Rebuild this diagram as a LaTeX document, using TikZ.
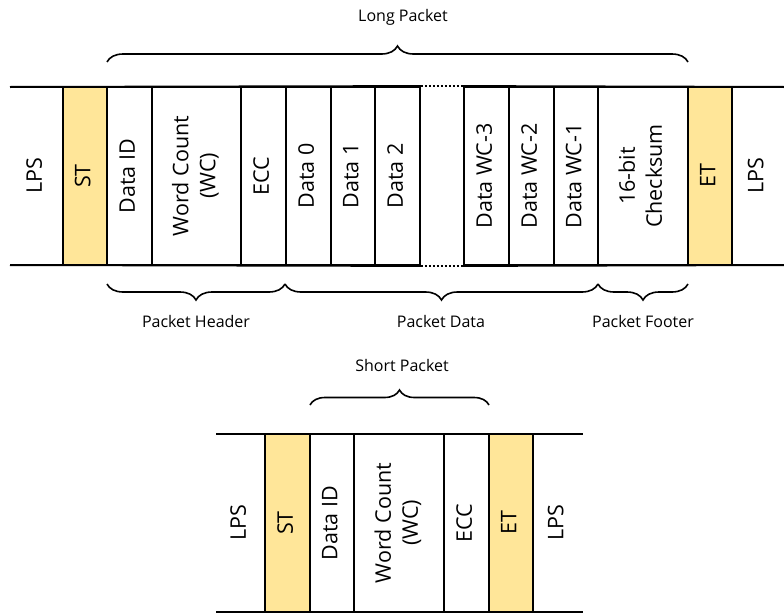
\documentclass[tikz,border=0pt]{standalone}
\usepackage{fontspec}
\setmainfont{Open Sans}
\usetikzlibrary{decorations.pathreplacing}
\definecolor{gold}{HTML}{FFE699}
\tikzset{
  cellbox/.style={draw=black, line width=1.8pt, minimum height=178pt, inner sep=0pt},
  plain/.style={inner sep=0pt, minimum height=178pt},
  big/.style={font=\fontsize{21.5}{27}\selectfont},
  small/.style={font=\fontsize{16}{18}\selectfont, inner sep=0pt},
  rail/.style={line width=2pt},
  gaprail/.style={line width=2pt, dotted},
  bracestyle/.style={decorate, decoration={brace, amplitude=16pt}, line width=1.6pt},
}
\newcommand{\rt}[1]{\rotatebox{90}{\begin{tabular}{@{}c@{}}#1\end{tabular}}}
\begin{document}
\begin{tikzpicture}[x=1pt,y=-1pt]
\useasboundingbox (0,0) rectangle (784,613);
% ---------- Long packet ----------
\coordinate (l0) at (10,87);  \coordinate (l1) at (784,87);
\coordinate (b0) at (10,265); \coordinate (b1) at (784,265);
\node[plain, big, minimum width=53pt] (lps1) at (36.5,176) {\rt{LPS}};
\node[cellbox, big, fill=gold, minimum width=44pt] (st1) at (85,176) {\rt{ST}};
\node[cellbox, big, minimum width=45pt] (did1) at (129.5,176) {\rt{Data ID}};
\node[cellbox, big, minimum width=89pt] (wc1) at (196.5,176) {\rt{Word Count\\(WC)}};
\node[cellbox, big, minimum width=45pt] (ecc1) at (263.5,176) {\rt{ECC}};
\node[cellbox, big, minimum width=45pt] (d0) at (308.5,176) {\rt{Data 0}};
\node[cellbox, big, minimum width=44pt] (d1) at (353,176) {\rt{Data 1}};
\node[cellbox, big, minimum width=45pt] (d2) at (397.5,176) {\rt{Data 2}};
\node[cellbox, big, minimum width=45pt] (dw3) at (486.5,176) {\rt{Data WC-3}};
\node[cellbox, big, minimum width=45pt] (dw2) at (531.5,176) {\rt{Data WC-2}};
\node[cellbox, big, minimum width=44pt] (dw1) at (576,176) {\rt{Data WC-1}};
\node[cellbox, big, minimum width=90pt] (cs) at (643,176) {\rt{16-bit\\Checksum}};
\node[cellbox, big, fill=gold, minimum width=44pt] (et1) at (710,176) {\rt{ET}};
\node[plain, big, minimum width=52pt] (lps2) at (758,176) {\rt{LPS}};
\draw[rail] (l0) -- (d2.north east);
\draw[rail] (dw3.north west) -- (l1);
\draw[rail] (b0) -- (d2.south east);
\draw[rail] (dw3.south west) -- (b1);
\draw[gaprail] (d2.north east) -- (dw3.north west);
\draw[gaprail] (d2.south east) -- (dw3.south west);
% braces
\coordinate (lpL) at (107,62); \coordinate (lpR) at (688,62);
\draw[bracestyle] (lpL) -- (lpR);
\node[small] (lptxt) at (403,17) {Long Packet};
\coordinate (phL) at (107,284); \coordinate (phR) at (285,284);
\coordinate (pdR) at (598,284); \coordinate (pfR) at (688,284);
\draw[bracestyle] (phR) -- (phL);
\draw[bracestyle] (pdR) -- (phR);
\draw[bracestyle] (pfR) -- (pdR);
\node[small] (phtxt) at (196,321) {Packet Header};
\node[small] (pdtxt) at (441,321) {Packet Data};
\node[small] (pftxt) at (643,321) {Packet Footer};
% ---------- Short packet ----------
\coordinate (s0) at (216,434); \coordinate (s1) at (583,434);
\coordinate (t0) at (216,612); \coordinate (t1) at (583,612);
\node[plain, big, minimum width=49pt] (slps1) at (240.5,523) {\rt{LPS}};
\node[cellbox, big, fill=gold, minimum width=45pt] (sst) at (287.5,523) {\rt{ST}};
\node[cellbox, big, minimum width=44pt] (sdid) at (332,523) {\rt{Data ID}};
\node[cellbox, big, minimum width=90pt] (swc) at (399,523) {\rt{Word Count\\(WC)}};
\node[cellbox, big, minimum width=45pt] (secc) at (466.5,523) {\rt{ECC}};
\node[cellbox, big, fill=gold, minimum width=44pt] (set) at (511,523) {\rt{ET}};
\node[plain, big, minimum width=50pt] (slps2) at (558,523) {\rt{LPS}};
\draw[rail] (s0) -- (s1);
\draw[rail] (t0) -- (t1);
\coordinate (spL) at (310,405); \coordinate (spR) at (489,405);
\draw[bracestyle, decoration={amplitude=15pt}] (spL) -- (spR);
\node[small] (sptxt) at (402,365) {Short Packet};
\end{tikzpicture}
\end{document}
